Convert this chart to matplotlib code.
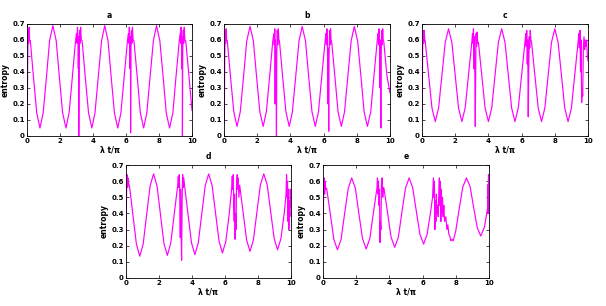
import matplotlib
matplotlib.use("Agg")
import matplotlib.pyplot as plt

# ---------------- data ----------------
panel_titles = ["a", "b", "c", "d", "e"]
x_ticks = [0, 2, 4, 6, 8, 10]
x_tick_labels = ["0", "2", "4", "6", "8", "10"]
y_ticks = [0, 0.1, 0.2, 0.3, 0.4, 0.5, 0.6, 0.7]
y_tick_labels = ["0", "0.1", "0.2", "0.3", "0.4", "0.5", "0.6", "0.7"]
x_label = "λ t/π"
y_label = "entropy"

curve_a = [
    (0.00, 0.20), (0.02, 0.10), (0.04, 0.45), (0.07, 0.66), (0.10, 0.58), (0.13, 0.68), (0.16, 0.60),
    (0.20, 0.596), (0.39, 0.37), (0.59, 0.144), (0.785, 0.05), (0.98, 0.144), (1.18, 0.37), (1.37, 0.596),
    (1.57, 0.69), (1.77, 0.596), (1.96, 0.37), (2.16, 0.144), (2.36, 0.05), (2.55, 0.144), (2.75, 0.37),
    (2.94, 0.596), (3.00, 0.64), (3.03, 0.58), (3.06, 0.68), (3.09, 0.60), (3.11, 0.42), (3.13, 0.62),
    (3.14, 0.00), (3.16, 0.55), (3.19, 0.66), (3.22, 0.58), (3.25, 0.68), (3.29, 0.60), (3.34, 0.596),
    (3.53, 0.37), (3.73, 0.144), (3.93, 0.05), (4.12, 0.144), (4.32, 0.37), (4.52, 0.596), (4.71, 0.69),
    (4.91, 0.596), (5.10, 0.37), (5.30, 0.144), (5.50, 0.05), (5.69, 0.144), (5.89, 0.37), (6.09, 0.596),
    (6.14, 0.64), (6.17, 0.58), (6.20, 0.68), (6.23, 0.60), (6.25, 0.42), (6.27, 0.62), (6.28, 0.02),
    (6.30, 0.55), (6.33, 0.66), (6.36, 0.58), (6.39, 0.68), (6.43, 0.60), (6.48, 0.596), (6.68, 0.37),
    (6.87, 0.144), (7.07, 0.05), (7.26, 0.144), (7.46, 0.37), (7.66, 0.596), (7.85, 0.69), (8.05, 0.596),
    (8.25, 0.37), (8.44, 0.144), (8.64, 0.05), (8.84, 0.144), (9.03, 0.37), (9.23, 0.596), (9.28, 0.64),
    (9.31, 0.58), (9.34, 0.68), (9.37, 0.60), (9.39, 0.42), (9.41, 0.62), (9.42, 0.00), (9.44, 0.55),
    (9.47, 0.66), (9.50, 0.58), (9.53, 0.68), (9.57, 0.60), (9.62, 0.596), (9.82, 0.37), (10.0, 0.16),
]

curve_b = [
    (0.00, 0.25), (0.02, 0.08), (0.04, 0.45), (0.07, 0.66), (0.10, 0.58), (0.13, 0.67), (0.16, 0.60),
    (0.20, 0.594), (0.39, 0.3725), (0.59, 0.151), (0.785, 0.06), (0.98, 0.151), (1.18, 0.3725), (1.37, 0.594),
    (1.57, 0.685), (1.77, 0.594), (1.96, 0.3725), (2.16, 0.151), (2.36, 0.06), (2.55, 0.151), (2.75, 0.3725),
    (2.94, 0.594), (3.00, 0.64), (3.03, 0.57), (3.06, 0.67), (3.08, 0.20), (3.10, 0.60), (3.13, 0.45),
    (3.16, 0.00), (3.18, 0.50), (3.21, 0.66), (3.24, 0.57), (3.27, 0.67), (3.31, 0.60), (3.34, 0.594),
    (3.53, 0.3725), (3.73, 0.151), (3.93, 0.06), (4.12, 0.151), (4.32, 0.3725), (4.52, 0.594), (4.71, 0.685),
    (4.91, 0.594), (5.10, 0.3725), (5.30, 0.151), (5.50, 0.06), (5.69, 0.151), (5.89, 0.3725), (6.09, 0.594),
    (6.14, 0.64), (6.17, 0.57), (6.20, 0.67), (6.23, 0.58), (6.26, 0.20), (6.28, 0.55), (6.31, 0.03),
    (6.33, 0.50), (6.36, 0.66), (6.39, 0.57), (6.42, 0.67), (6.45, 0.60), (6.48, 0.594), (6.68, 0.3725),
    (6.87, 0.151), (7.07, 0.06), (7.26, 0.151), (7.46, 0.3725), (7.66, 0.594), (7.85, 0.685), (8.05, 0.594),
    (8.25, 0.3725), (8.44, 0.151), (8.64, 0.06), (8.84, 0.151), (9.03, 0.3725), (9.23, 0.594), (9.28, 0.64),
    (9.31, 0.57), (9.34, 0.67), (9.37, 0.58), (9.40, 0.30), (9.42, 0.60), (9.45, 0.05), (9.47, 0.50),
    (9.50, 0.66), (9.53, 0.57), (9.56, 0.67), (9.59, 0.60), (9.62, 0.594), (9.82, 0.3725), (10.0, 0.27),
]

curve_c = [
    (0.00, 0.10), (0.02, 0.30), (0.04, 0.55), (0.07, 0.66), (0.10, 0.58), (0.13, 0.66), (0.17, 0.60),
    (0.20, 0.585), (0.40, 0.38), (0.60, 0.175), (0.80, 0.09), (1.00, 0.175), (1.20, 0.38), (1.40, 0.585),
    (1.60, 0.67), (1.80, 0.585), (2.00, 0.38), (2.20, 0.175), (2.40, 0.09), (2.60, 0.175), (2.80, 0.38),
    (3.00, 0.585), (3.04, 0.64), (3.07, 0.58), (3.10, 0.67), (3.13, 0.42), (3.16, 0.62), (3.19, 0.30),
    (3.21, 0.06), (3.23, 0.35), (3.26, 0.64), (3.29, 0.56), (3.32, 0.65), (3.36, 0.58), (3.40, 0.585),
    (3.60, 0.38), (3.80, 0.175), (4.00, 0.09), (4.20, 0.175), (4.40, 0.38), (4.60, 0.585), (4.80, 0.67),
    (5.00, 0.585), (5.20, 0.38), (5.40, 0.175), (5.60, 0.09), (5.80, 0.175), (6.00, 0.38), (6.20, 0.585),
    (6.25, 0.64), (6.28, 0.56), (6.31, 0.66), (6.34, 0.45), (6.37, 0.60), (6.40, 0.12), (6.43, 0.40),
    (6.46, 0.62), (6.49, 0.55), (6.52, 0.66), (6.56, 0.60), (6.60, 0.585), (6.80, 0.38), (7.00, 0.175),
    (7.20, 0.09), (7.40, 0.175), (7.60, 0.38), (7.80, 0.585), (8.00, 0.67), (8.20, 0.585), (8.40, 0.38),
    (8.60, 0.175), (8.80, 0.09), (9.00, 0.175), (9.20, 0.38), (9.40, 0.585), (9.45, 0.64), (9.48, 0.55),
    (9.52, 0.66), (9.55, 0.40), (9.58, 0.60), (9.62, 0.21), (9.65, 0.30), (9.68, 0.25), (9.72, 0.55),
    (9.76, 0.62), (9.80, 0.54), (9.84, 0.60), (9.88, 0.56), (9.92, 0.60), (9.96, 0.50), (10.0, 0.47),
]

curve_d = [
    (0.00, 0.15), (0.02, 0.40), (0.04, 0.58), (0.07, 0.64), (0.10, 0.56), (0.13, 0.62), (0.17, 0.58),
    (0.21, 0.57), (0.42, 0.39), (0.63, 0.21), (0.835, 0.135), (1.04, 0.21), (1.25, 0.39), (1.46, 0.57),
    (1.67, 0.645), (1.88, 0.571), (2.09, 0.3925), (2.30, 0.214), (2.505, 0.14), (2.71, 0.214), (2.92, 0.3925),
    (3.13, 0.571), (3.17, 0.63), (3.20, 0.56), (3.23, 0.64), (3.26, 0.52), (3.29, 0.25), (3.31, 0.55),
    (3.34, 0.30), (3.37, 0.11), (3.40, 0.45), (3.43, 0.64), (3.47, 0.56), (3.50, 0.62), (3.55, 0.572),
    (3.76, 0.395), (3.97, 0.218), (4.175, 0.145), (4.38, 0.218), (4.59, 0.395), (4.80, 0.572), (5.01, 0.645),
    (5.22, 0.573), (5.43, 0.40), (5.64, 0.227), (5.845, 0.155), (6.05, 0.227), (6.26, 0.40), (6.40, 0.55),
    (6.44, 0.63), (6.47, 0.55), (6.50, 0.64), (6.53, 0.45), (6.56, 0.35), (6.58, 0.52), (6.61, 0.24),
    (6.64, 0.40), (6.67, 0.30), (6.70, 0.58), (6.74, 0.64), (6.77, 0.55), (6.80, 0.62), (6.84, 0.50),
    (6.89, 0.575), (7.10, 0.405), (7.31, 0.235), (7.515, 0.165), (7.72, 0.235), (7.93, 0.405), (8.14, 0.575),
    (8.35, 0.645), (8.56, 0.576), (8.77, 0.41), (8.98, 0.244), (9.185, 0.175), (9.39, 0.244), (9.60, 0.41),
    (9.70, 0.52), (9.73, 0.64), (9.76, 0.50), (9.79, 0.60), (9.82, 0.35), (9.85, 0.55), (9.87, 0.30),
    (9.90, 0.48), (9.93, 0.38), (9.96, 0.55), (10.0, 0.44),
]

curve_e = [
    (0.00, 0.12), (0.02, 0.35), (0.04, 0.55), (0.07, 0.62), (0.10, 0.52), (0.13, 0.60), (0.17, 0.55),
    (0.22, 0.555), (0.44, 0.3975), (0.65, 0.24), (0.87, 0.175), (1.09, 0.24), (1.30, 0.3975), (1.52, 0.555),
    (1.73, 0.62), (1.95, 0.556), (2.16, 0.40), (2.38, 0.244), (2.60, 0.18), (2.82, 0.244), (3.03, 0.40),
    (3.25, 0.556), (3.28, 0.62), (3.31, 0.52), (3.34, 0.60), (3.37, 0.45), (3.40, 0.55), (3.43, 0.22),
    (3.46, 0.35), (3.49, 0.30), (3.52, 0.58), (3.56, 0.62), (3.60, 0.50), (3.64, 0.56), (3.67, 0.557),
    (3.89, 0.405), (4.10, 0.253), (4.32, 0.19), (4.54, 0.253), (4.75, 0.405), (4.97, 0.557), (5.19, 0.62),
    (5.40, 0.56), (5.62, 0.415), (5.84, 0.27), (6.06, 0.21), (6.27, 0.27), (6.49, 0.415), (6.60, 0.50),
    (6.65, 0.62), (6.68, 0.50), (6.71, 0.60), (6.74, 0.30), (6.77, 0.48), (6.80, 0.35), (6.83, 0.52),
    (6.86, 0.40), (6.90, 0.45), (6.94, 0.38), (6.98, 0.55), (7.01, 0.62), (7.04, 0.45), (7.07, 0.60),
    (7.10, 0.35), (7.13, 0.55), (7.16, 0.40), (7.20, 0.50), (7.24, 0.38), (7.28, 0.45), (7.32, 0.35),
    (7.40, 0.38), (7.46, 0.30), (7.52, 0.33), (7.58, 0.27), (7.64, 0.26), (7.70, 0.23), (7.77, 0.24),
    (7.84, 0.23), (7.99, 0.287), (8.20, 0.425), (8.42, 0.563), (8.64, 0.62), (8.86, 0.567), (9.07, 0.44),
    (9.29, 0.313), (9.50, 0.26), (9.72, 0.313), (9.93, 0.44), (9.95, 0.58), (9.96, 0.40), (9.97, 0.64),
    (9.98, 0.42), (9.99, 0.60), (10.0, 0.45),
]

curves = [curve_a, curve_b, curve_c, curve_d, curve_e]

# ---------------- layout ----------------
W, H = 606, 306
# (left, right, top, bottom) in pixels
boxes = [
    (27, 192, 24, 136),
    (224, 390, 24, 136),
    (422, 588, 24, 136),
    (126, 291, 165, 278),
    (323, 489, 165, 278),
]

fig = plt.figure(figsize=(W / 100, H / 100), dpi=100)
fig.patch.set_facecolor("white")

for title, curve, (l, r, t, b) in zip(panel_titles, curves, boxes):
    ax = fig.add_axes([l / W, 1 - b / H, (r - l) / W, (b - t) / H])
    xs = [p[0] for p in curve]
    ys = [p[1] for p in curve]
    ax.plot(xs, ys, color="#ff00ff", lw=0.85, solid_joinstyle="round")
    ax.set_xlim(0, 10)
    ax.set_ylim(0, 0.7)
    ax.set_xticks(x_ticks)
    ax.set_xticklabels(x_tick_labels)
    ax.set_yticks(y_ticks)
    ax.set_yticklabels(y_tick_labels)
    ax.tick_params(direction="in", length=2, width=0.5, labelsize=5, pad=1.5,
                   top=True, right=True)
    for lab in ax.get_xticklabels() + ax.get_yticklabels():
        lab.set_fontweight("bold")
    for s in ax.spines.values():
        s.set_linewidth(0.6)
    ax.set_title(title, fontsize=5.5, fontweight="bold", pad=4)
    ax.set_xlabel(x_label, fontsize=5.5, fontweight="bold", labelpad=1)
    ax.set_ylabel(y_label, fontsize=5.5, fontweight="bold", labelpad=2)

fig.savefig("out.png", dpi=100)
